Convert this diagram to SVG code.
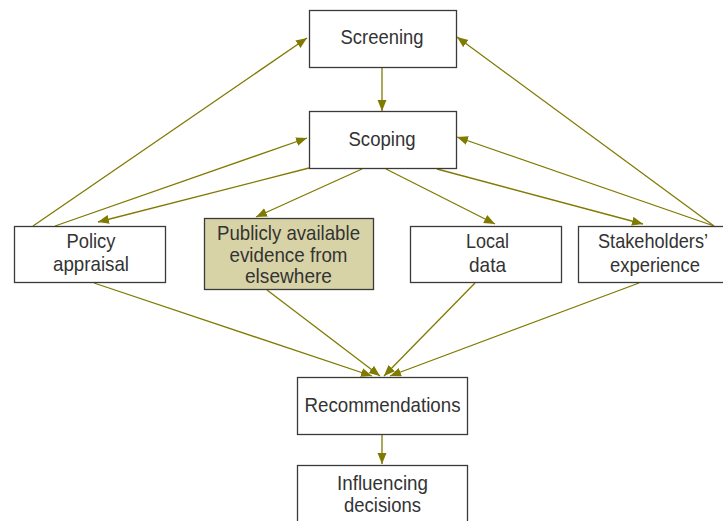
<svg xmlns="http://www.w3.org/2000/svg" width="723" height="521" viewBox="0 0 723 521">
<defs>
<marker id="ah" markerUnits="userSpaceOnUse" markerWidth="12" markerHeight="10" refX="11" refY="4.5" orient="auto">
<path d="M0,0 L11,4.5 L0,9 z" fill="#807a00"/>
</marker>
<style>
.box{fill:#fff;stroke:#3a3a3a;stroke-width:1.3}
.hl{fill:#d8d3a6}
.t{font-family:"Liberation Sans Narrow","Liberation Sans",Arial,sans-serif;font-size:21px;fill:#333;text-anchor:middle}
.c{stroke:#807a00;stroke-width:1.3;fill:none;marker-end:url(#ah)}
</style>
</defs>
<rect width="723" height="521" fill="#fff"/>
<g id="connectors">
<line class="c" x1="382" y1="67" x2="382" y2="111"/>
<line class="c" x1="33" y1="226" x2="307" y2="38"/>
<line class="c" x1="55" y1="226" x2="307" y2="138"/>
<line class="c" x1="309" y1="168" x2="98" y2="222"/>
<line class="c" x1="362" y1="169" x2="256" y2="217"/>
<line class="c" x1="386" y1="169" x2="495" y2="224"/>
<line class="c" x1="437" y1="169" x2="643" y2="224"/>
<line class="c" x1="714" y1="226" x2="457" y2="137"/>
<line class="c" x1="714" y1="226" x2="457" y2="37"/>
<line class="c" x1="94" y1="283" x2="372" y2="376"/>
<line class="c" x1="267" y1="290" x2="380" y2="376"/>
<line class="c" x1="475" y1="283" x2="384" y2="376"/>
<line class="c" x1="639" y1="283" x2="390" y2="376"/>
<line class="c" x1="382" y1="435" x2="382" y2="464"/>
</g>
<g id="screening">
<rect class="box" x="309.5" y="10.5" width="147" height="57"/>
<text class="t" x="382" y="44" textLength="83" lengthAdjust="spacingAndGlyphs">Screening</text>
</g>
<g id="scoping">
<rect class="box" x="309.5" y="111.5" width="147" height="57"/>
<text class="t" x="382" y="146" textLength="67" lengthAdjust="spacingAndGlyphs">Scoping</text>
</g>
<g id="policy">
<rect class="box" x="14.5" y="226.5" width="151" height="56"/>
<text class="t" x="91" y="248" textLength="49" lengthAdjust="spacingAndGlyphs">Policy</text>
<text class="t" x="91" y="271" textLength="76" lengthAdjust="spacingAndGlyphs">appraisal</text>
</g>
<g id="public">
<rect class="box hl" x="204.5" y="218.5" width="169" height="71"/>
<text class="t" x="288.5" y="240" textLength="143" lengthAdjust="spacingAndGlyphs">Publicly available</text>
<text class="t" x="288.5" y="262" textLength="118" lengthAdjust="spacingAndGlyphs">evidence from</text>
<text class="t" x="288.5" y="283" textLength="87" lengthAdjust="spacingAndGlyphs">elsewhere</text>
</g>
<g id="local">
<rect class="box" x="410.5" y="226.5" width="151" height="56"/>
<text class="t" x="487.5" y="248" textLength="43" lengthAdjust="spacingAndGlyphs">Local</text>
<text class="t" x="487.5" y="272" textLength="37" lengthAdjust="spacingAndGlyphs">data</text>
</g>
<g id="stakeholders">
<rect class="box" x="578.5" y="226.5" width="151" height="56"/>
<text class="t" x="653" y="248" textLength="110" lengthAdjust="spacingAndGlyphs">Stakeholders’</text>
<text class="t" x="655" y="272" textLength="90" lengthAdjust="spacingAndGlyphs">experience</text>
</g>
<g id="recommendations">
<rect class="box" x="297.5" y="377.5" width="170" height="57"/>
<text class="t" x="382.5" y="412" textLength="156" lengthAdjust="spacingAndGlyphs">Recommendations</text>
</g>
<g id="influencing">
<rect class="box" x="297.5" y="465.5" width="170" height="60"/>
<text class="t" x="382.5" y="490" textLength="91" lengthAdjust="spacingAndGlyphs">Influencing</text>
<text class="t" x="382.5" y="512" textLength="77" lengthAdjust="spacingAndGlyphs">decisions</text>
</g>
</svg>
